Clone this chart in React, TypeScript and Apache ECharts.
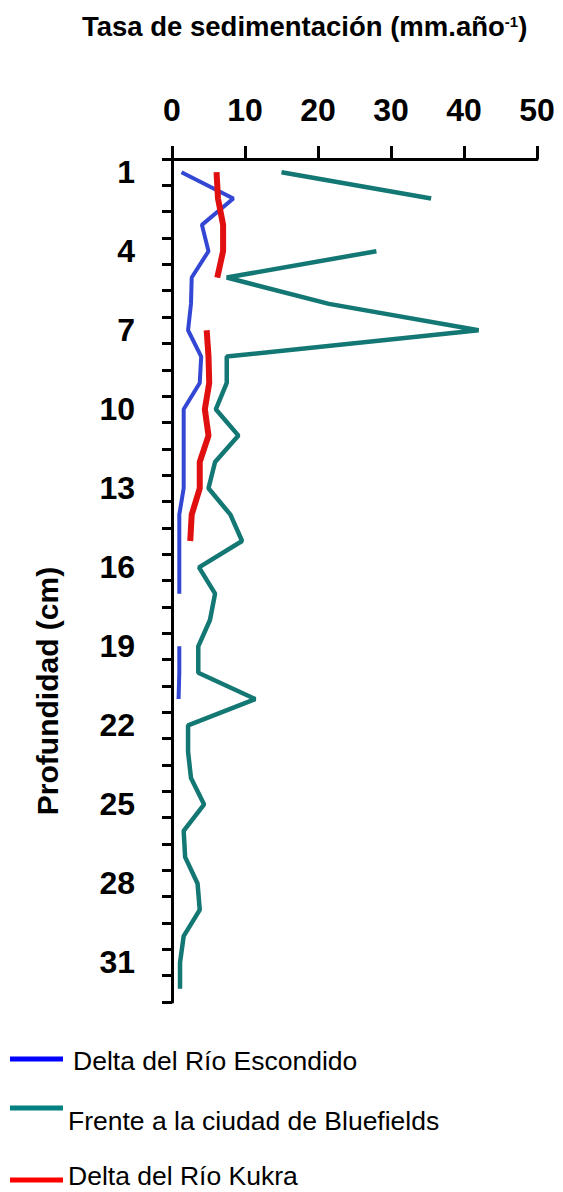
import React, { useEffect, useRef } from "react";
import * as echarts from "echarts";

// Depth categories (cm), one per centimetre of core
const depthLabels = [
  "1", "2", "3", "4", "5", "6", "7", "8", "9", "10", "11", "12", "13", "14", "15", "16",
  "17", "18", "19", "20", "21", "22", "23", "24", "25", "26", "27", "28", "29", "30", "31", "32",
];

// Sedimentation rate (mm/año) per depth; null = no sample
const escondido = [
  1.3, 8.4, 4.1, 5.0, 2.7, 2.6, 2.2, 4.0, 3.8, 1.6, 1.6, 1.6, 1.6, 1.0, 1.0, 1.0,
  1.0, null, 1.0, 1.0, 0.9, null, null, null, null, null, null, null, null, null, null, null,
];
const bluefields = [
  15, 35.5, null, 28, 7.5, 21.5, 42, 7.5, 7.5, 6.0, 9.1, 5.9, 5.0, 8.0, 9.6, 3.7,
  5.9, 5.2, 3.6, 3.6, 11.4, 2.2, 2.2, 2.6, 4.4, 1.6, 1.8, 3.5, 3.8, 1.6, 1.1, 1.1,
];
const kukra = [
  6.1, 6.3, 7.0, 7.0, 6.2, null, 4.75, 5.0, 5.1, 4.5, 5.0, 3.8, 3.8, 2.7, 2.5, null,
  null, null, null, null, null, null, null, null, null, null, null, null, null, null, null, null,
];

const seriesNames = [
  "Delta del Río Escondido",
  "Frente a la ciudad de Bluefields",
  "Delta del Río Kukra",
];

const FONT = '"Liberation Sans", Arial, Helvetica, sans-serif';

export default function App() {
  const ref = useRef<HTMLDivElement>(null);

  useEffect(() => {
    if (!ref.current) return;
    const chart = echarts.init(ref.current, undefined, { renderer: "svg" });

    const legendItems = [
      { name: seriesNames[0], color: "#0000ff", lineY: 1059, textX: 73, textY: 1061 },
      { name: seriesNames[1], color: "#008080", lineY: 1108, textX: 68, textY: 1121 },
      { name: seriesNames[2], color: "#ff0000", lineY: 1180, textX: 68, textY: 1176 },
    ];

    const legendGraphics: any[] = [];
    legendItems.forEach((it) => {
      legendGraphics.push({
        type: "line",
        shape: { x1: 10, y1: it.lineY, x2: 63, y2: it.lineY },
        style: { stroke: it.color, lineWidth: 5 },
      });
      legendGraphics.push({
        type: "text",
        x: it.textX,
        y: it.textY,
        style: {
          text: it.name,
          font: `26.5px ${FONT}`,
          fill: "#000",
          verticalAlign: "middle",
          align: "left",
        },
      });
    });

    chart.setOption({
      animation: false,
      backgroundColor: "#fff",
      title: {
        text: "{t|Tasa de sedimentación (mm.año}{s|-1}{t|)}",
        left: 77,
        top: 5,
        textStyle: {
          rich: {
            t: { fontSize: 27.5, fontWeight: "bold", fontFamily: FONT, color: "#000", lineHeight: 33 },
            s: {
              fontSize: 15,
              fontWeight: "bold",
              fontFamily: FONT,
              color: "#000",
              lineHeight: 15,
              verticalAlign: "top",
              padding: [4, 0, 0, 0],
            },
          },
        },
      },
      grid: {
        left: 172,
        right: 26,
        top: 159,
        bottom: 190,
        outerBoundsMode: "none",
      },
      xAxis: {
        type: "value",
        position: "top",
        min: 0,
        max: 50,
        interval: 10,
        axisLine: { show: true, onZero: false, lineStyle: { color: "#000", width: 3 } },
        axisTick: { show: true, inside: false, length: 13, lineStyle: { color: "#000", width: 3 } },
        axisLabel: {
          margin: 33,
          fontSize: 32,
          fontWeight: "bold",
          fontFamily: FONT,
          color: "#000",
        },
        splitLine: { show: false },
      },
      yAxis: {
        type: "category",
        inverse: true,
        data: depthLabels,
        boundaryGap: true,
        axisLine: { show: true, onZero: false, lineStyle: { color: "#000", width: 3 } },
        axisTick: {
          show: true,
          inside: false,
          interval: 0,
          alignWithLabel: false,
          length: 10,
          lineStyle: { color: "#000", width: 3 },
        },
        axisLabel: {
          interval: 2,
          margin: 37,
          fontSize: 32,
          fontWeight: "bold",
          fontFamily: FONT,
          color: "#000",
        },
        splitLine: { show: false },
      },
      graphic: [
        {
          type: "text",
          x: 47,
          y: 691,
          rotation: Math.PI / 2,
          style: {
            text: "Profundidad (cm)",
            font: `bold 30px ${FONT}`,
            fill: "#000",
            align: "center",
            verticalAlign: "middle",
          },
        },
        ...legendGraphics,
      ],
      series: [
        {
          name: seriesNames[0],
          type: "line",
          data: escondido,
          showSymbol: false,
          connectNulls: false,
          lineStyle: { color: "#3347d4", width: 4 },
          itemStyle: { color: "#3347d4" },
          z: 2,
        },
        {
          name: seriesNames[1],
          type: "line",
          data: bluefields,
          showSymbol: false,
          connectNulls: false,
          lineStyle: { color: "#137774", width: 4.5 },
          itemStyle: { color: "#137774" },
          z: 3,
        },
        {
          name: seriesNames[2],
          type: "line",
          data: kukra,
          showSymbol: false,
          connectNulls: false,
          lineStyle: { color: "#e01010", width: 6 },
          itemStyle: { color: "#e01010" },
          z: 4,
        },
      ],
    });

    return () => chart.dispose();
  }, []);

  return (
    <div
      ref={ref}
      style={{ position: "fixed", left: 0, top: 0, width: 563, height: 1192, background: "#fff" }}
    />
  );
}
